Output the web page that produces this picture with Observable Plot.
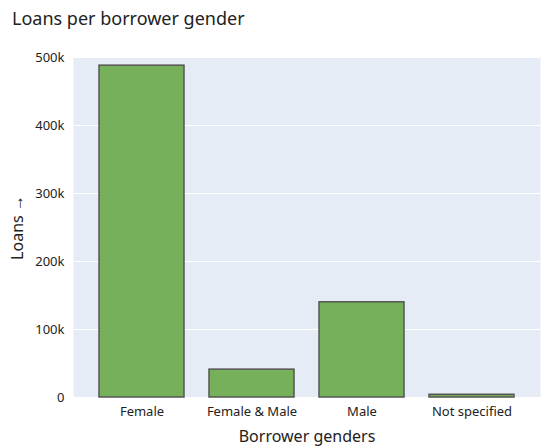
<!DOCTYPE html>
<html>
<head>
<meta charset="utf-8">
<script src="https://cdn.jsdelivr.net/npm/d3@7"></script>
<script src="https://cdn.jsdelivr.net/npm/@observablehq/plot@0.6"></script>
<style>
  body { margin: 0; background: #fff; font-family: "Noto Sans", sans-serif; }
  #title { font-size: 18px; padding: 6px 0 0 12px; height: 29px; color: #222; }
</style>
</head>
<body>
<div id="title">Loans per borrower gender</div>
<div id="chart"></div>
<script>
const genders = ["Female", "Female & Male", "Male", "Not specified"];
const loans = [488000, 41000, 140000, 4000];
const yTicks = [0, 100000, 200000, 300000, 400000, 500000];

const data = genders.map((g, i) => ({ gender: g, loans: loans[i] }));

const chart = Plot.plot({
  width: 547,
  height: 413,
  marginTop: 22,
  marginBottom: 51,
  marginLeft: 73,
  marginRight: 7,
  style: { fontFamily: "Noto Sans, sans-serif", fontSize: "13px", color: "#222" },
  x: { domain: genders, label: "Borrower genders", labelAnchor: "center", labelOffset: 44, padding: 0.23, tickSize: 0 },
  y: {
    domain: [0, 500000], ticks: yTicks, tickSize: 0, label: "Loans", labelAnchor: "center", labelOffset: 62,
    tickFormat: (d) => (d === 0 ? "0" : d / 1000 + "k")
  },
  marks: [
    Plot.frame({ fill: "#e5ecf6", stroke: null }),
    Plot.gridY(yTicks, { stroke: "#fff", strokeOpacity: 1, strokeWidth: 1 }),
    Plot.barY(data, { x: "gender", y: "loans", fill: "#76b05a", stroke: "#555", strokeWidth: 1.5 })
  ]
});
chart.querySelectorAll("[aria-label='x-axis label'] text, [aria-label='y-axis label'] text").forEach(t => t.style.fontSize = "16px");
document.getElementById("chart").appendChild(chart);
</script>
</body>
</html>
